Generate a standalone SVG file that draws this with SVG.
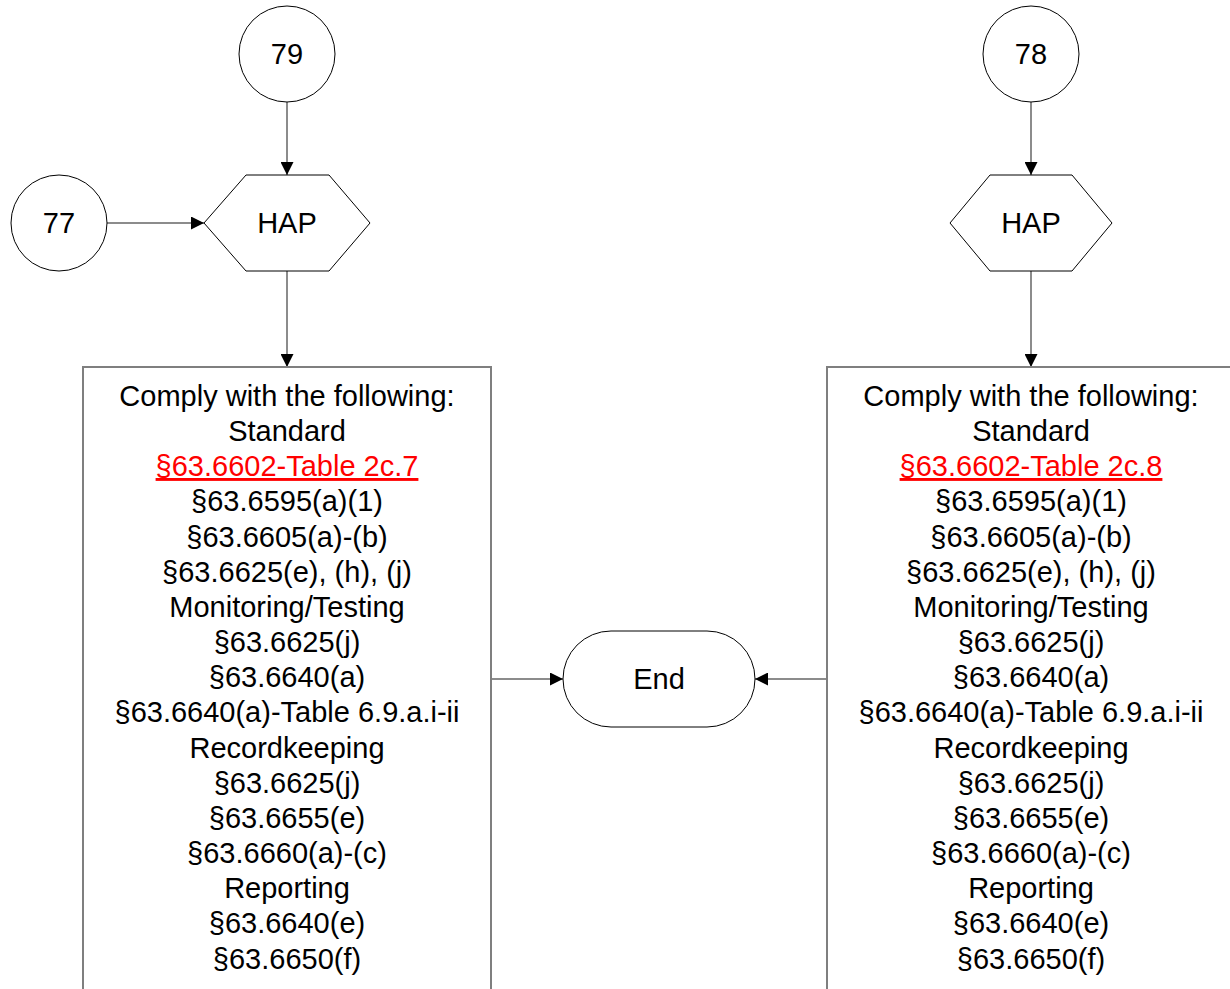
<svg xmlns="http://www.w3.org/2000/svg" width="1230" height="989" viewBox="0 0 1230 989">
<style>
text{font-family:"Liberation Sans",Arial,sans-serif;font-size:29px;fill:#000;text-anchor:middle}
.shape{fill:#fff;stroke:#000;stroke-width:1}
.box{fill:#fff;stroke:#7f7f7f;stroke-width:2}
.conn{stroke:#666;stroke-width:1.5;fill:none;marker-end:url(#ah)}
.red{fill:#ff0000;text-decoration:underline}
</style>
<defs>
<marker id="ah" viewBox="0 0 12 12" refX="12" refY="6" markerWidth="13" markerHeight="13" markerUnits="userSpaceOnUse" orient="auto">
<path d="M0,0 L12,6 L0,12 Z" fill="#000"/>
</marker>
</defs>
<g id="connectors">
<line class="conn" x1="287" y1="102" x2="287" y2="175"/>
<line class="conn" x1="107" y1="223" x2="204" y2="223"/>
<line class="conn" x1="287" y1="271" x2="287" y2="367"/>
<line class="conn" x1="1031" y1="102" x2="1031" y2="175"/>
<line class="conn" x1="1031" y1="271" x2="1031" y2="367"/>
<line class="conn" x1="491" y1="679" x2="563" y2="679"/>
<line class="conn" x1="827" y1="679" x2="755" y2="679"/>
</g>
<g id="n79"><circle class="shape" cx="287" cy="54" r="48"/><text x="287" y="64">79</text></g>
<g id="n77"><circle class="shape" cx="59" cy="223" r="48"/><text x="59" y="233">77</text></g>
<g id="n78"><circle class="shape" cx="1031" cy="54" r="48"/><text x="1031" y="64">78</text></g>
<g id="hapL"><polygon class="shape" points="204,223 246,175 329,175 370,223 329,271 246,271"/><text x="287" y="233">HAP</text></g>
<g id="hapR"><polygon class="shape" points="950,223 990,175 1072,175 1112,223 1072,271 990,271"/><text x="1031" y="233">HAP</text></g>
<g id="end"><rect class="shape" x="563" y="631" width="192" height="96" rx="48" ry="48"/><text x="659" y="689">End</text></g>
<g id="boxL">
<path class="box" d="M83,995 L83,367 L491,367 L491,995"/>
<text x="287" y="406">Comply with the following:</text>
<text x="287" y="441">Standard</text>
<text x="287" y="476" class="red">§63.6602-Table 2c.7</text>
<text x="287" y="511">§63.6595(a)(1)</text>
<text x="287" y="547">§63.6605(a)-(b)</text>
<text x="287" y="582">§63.6625(e), (h), (j)</text>
<text x="287" y="617">Monitoring/Testing</text>
<text x="287" y="652">§63.6625(j)</text>
<text x="287" y="687">§63.6640(a)</text>
<text x="287" y="722">§63.6640(a)-Table 6.9.a.i-ii</text>
<text x="287" y="758">Recordkeeping</text>
<text x="287" y="793">§63.6625(j)</text>
<text x="287" y="828">§63.6655(e)</text>
<text x="287" y="863">§63.6660(a)-(c)</text>
<text x="287" y="898">Reporting</text>
<text x="287" y="933">§63.6640(e)</text>
<text x="287" y="969">§63.6650(f)</text>
</g>
<g id="boxR">
<path class="box" d="M827,995 L827,367 L1240,367"/>
<text x="1031" y="406">Comply with the following:</text>
<text x="1031" y="441">Standard</text>
<text x="1031" y="476" class="red">§63.6602-Table 2c.8</text>
<text x="1031" y="511">§63.6595(a)(1)</text>
<text x="1031" y="547">§63.6605(a)-(b)</text>
<text x="1031" y="582">§63.6625(e), (h), (j)</text>
<text x="1031" y="617">Monitoring/Testing</text>
<text x="1031" y="652">§63.6625(j)</text>
<text x="1031" y="687">§63.6640(a)</text>
<text x="1031" y="722">§63.6640(a)-Table 6.9.a.i-ii</text>
<text x="1031" y="758">Recordkeeping</text>
<text x="1031" y="793">§63.6625(j)</text>
<text x="1031" y="828">§63.6655(e)</text>
<text x="1031" y="863">§63.6660(a)-(c)</text>
<text x="1031" y="898">Reporting</text>
<text x="1031" y="933">§63.6640(e)</text>
<text x="1031" y="969">§63.6650(f)</text>
</g>
</svg>
